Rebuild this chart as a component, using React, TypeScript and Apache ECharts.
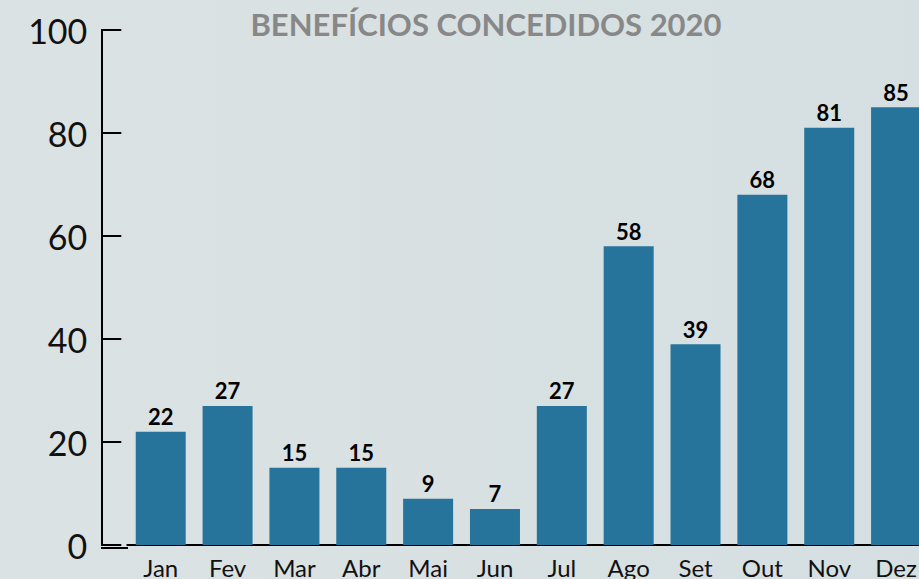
import React, { useEffect, useRef } from "react";
import * as echarts from "echarts";

const categories = ["Jan", "Fev", "Mar", "Abr", "Mai", "Jun", "Jul", "Ago", "Set", "Out", "Nov", "Dez"];
const values = [22, 27, 15, 15, 9, 7, 27, 58, 39, 68, 81, 85];
const titleText = "BENEFÍCIOS CONCEDIDOS 2020";

export default function App() {
  const ref = useRef<HTMLDivElement>(null);
  useEffect(() => {
    if (!ref.current) return;
    const chart = echarts.init(ref.current, undefined, { renderer: "svg" });
    chart.setOption({
      animation: false,
      backgroundColor: {
        type: "linear", x: 0, y: 0, x2: 1, y2: 0,
        colorStops: [
          { offset: 0, color: "#dbe2e3" },
          { offset: 1, color: "#d5dfe1" },
        ],
      },
      title: {
        text: titleText,
        left: 481,
        textAlign: "center",
        top: 3,
        textStyle: { fontFamily: "Lato", fontWeight: "bold", fontSize: 31, color: "#888888" },
      },
      grid: { left: 127.3, width: 802.2, top: 30, bottom: 31, containLabel: false },
      xAxis: {
        type: "category",
        data: categories,
        axisLine: { show: true, lineStyle: { color: "#000", width: 2 } },
        axisTick: { show: false },
        axisLabel: { fontFamily: "Lato", fontSize: 24, color: "#111", margin: 10 },
      },
      yAxis: {
        type: "value",
        min: 0,
        max: 100,
        interval: 20,
        offset: 26,
        axisLine: { show: true, lineStyle: { color: "#000", width: 2 } },
        axisTick: { show: true, inside: true, length: 20, lineStyle: { color: "#000", width: 2 } },
        splitLine: { show: false },
        axisLabel: { fontFamily: "Lato", fontSize: 34, color: "#111", margin: 14 },
      },
      graphic: [
        { type: "line", shape: { x1: 101, y1: 548, x2: 128, y2: 548 }, style: { stroke: "#000", lineWidth: 2 } },
      ],
      series: [
        {
          type: "bar",
          data: values,
          barWidth: 50,
          itemStyle: { color: "#26739b" },
          label: {
            show: true,
            position: "top",
            distance: 4,
            fontFamily: "Lato",
            fontWeight: "bold",
            fontSize: 22,
            color: "#000",
          },
        },
      ],
    });
    return () => chart.dispose();
  }, []);
  return (
    <div style={{ position: "fixed", left: 0, top: 0, width: 919, height: 579, overflow: "hidden" }}>
      <div ref={ref} style={{ width: 940, height: 579 }} />
    </div>
  );
}
